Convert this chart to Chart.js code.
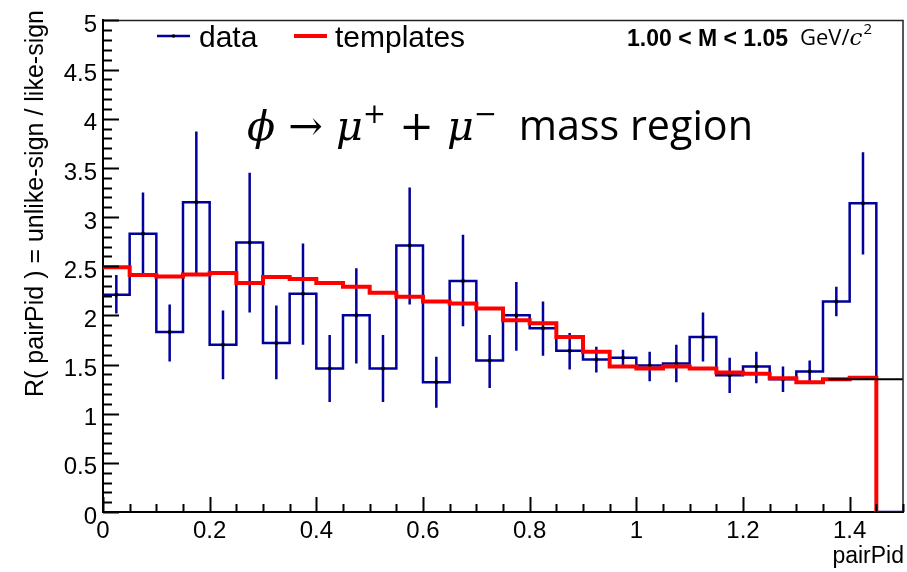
<!DOCTYPE html>
<html>
<head>
<meta charset="utf-8">
<script src="https://cdn.jsdelivr.net/npm/chart.js@4.4.1/dist/chart.umd.min.js"></script>
<style>
  html, body { margin: 0; padding: 0; background: #fff; }
  canvas { display: block; }
</style>
</head>
<body>
<canvas id="chart" width="907" height="572"></canvas>
<script>
// bin edges of the pairPid histogram (30 bins)
const binEdges = [0, 0.05, 0.1, 0.15, 0.2, 0.25, 0.3, 0.35, 0.4, 0.45, 0.5, 0.55, 0.6, 0.65, 0.7, 0.75,
                  0.8, 0.85, 0.9, 0.95, 1.0, 1.05, 1.1, 1.15, 1.2, 1.25, 1.3, 1.35, 1.4, 1.45, 1.5];

// data: ratio per bin and error bar ends
const dataValues = [2.21, 2.83, 1.83, 3.15, 1.70, 2.74, 1.72, 2.22, 1.46, 2.00, 1.46, 2.71, 1.32, 2.35, 1.54,
                    2.00, 1.87, 1.64, 1.55, 1.57, 1.49, 1.51, 1.78, 1.39, 1.48, 1.35, 1.43, 2.14, 3.14, 0];
const dataErrHigh = [2.41, 3.25, 2.11, 3.87, 2.05, 3.45, 2.10, 2.73, 1.80, 2.48, 1.80, 3.30, 1.58, 2.82, 1.80,
                     2.34, 2.14, 1.82, 1.68, 1.65, 1.63, 1.70, 2.03, 1.57, 1.63, 1.48, 1.54, 2.29, 3.66, null];
const dataErrLow = [2.02, 2.43, 1.53, 2.43, 1.35, 2.03, 1.35, 1.70, 1.12, 1.51, 1.12, 2.11, 1.06, 1.89, 1.26,
                    1.64, 1.59, 1.45, 1.42, 1.49, 1.33, 1.32, 1.53, 1.21, 1.31, 1.22, 1.33, 1.99, 2.62, null];

// templates
const templateValues = [2.49, 2.41, 2.395, 2.415, 2.43, 2.33, 2.39, 2.37, 2.33, 2.29, 2.23, 2.19, 2.14, 2.12, 2.07,
                        1.95, 1.92, 1.78, 1.63, 1.48, 1.46, 1.48, 1.46, 1.42, 1.405, 1.36, 1.32, 1.35, 1.365, 0];

// flat line at the right end
const fitX = [1.36, 1.5];
const fitY = [1.35, 1.35];

const BLUE = '#00009a';
const RED = '#ff0000';
const SANS = '"Liberation Sans", Arial, Helvetica, sans-serif';

// step outlines: point at each left edge, horizontal first then vertical
const dataStep = binEdges.map((x, i) => ({ x: x, y: dataValues[Math.min(i, dataValues.length - 1)] }));
const templateStep = binEdges.slice(0, templateValues.length).map((x, i) => ({ x: x, y: templateValues[i] }));

const centers = dataValues.map((v, i) => (binEdges[i] + binEdges[i + 1]) / 2);
const errPts = [];
const dotPts = [];
dataValues.forEach((v, i) => {
  if (dataErrLow[i] == null) return;
  errPts.push({ x: centers[i], y: dataErrLow[i] }, { x: centers[i], y: dataErrHigh[i] }, { x: centers[i], y: null });
  dotPts.push({ x: centers[i], y: v });
});
const fitPts = fitX.map((x, i) => ({ x: x, y: fitY[i] }));

// inner ticks, frame, legend and texts in ROOT style
const rootDecor = {
  id: 'rootDecor',
  afterDraw(chart) {
    const ctx = chart.ctx;
    const a = chart.chartArea;
    const xs = chart.scales.x, ys = chart.scales.y;
    ctx.save();

    // top and right frame
    ctx.strokeStyle = '#222';
    ctx.lineWidth = 1.5;
    ctx.beginPath();
    ctx.moveTo(a.left, a.top); ctx.lineTo(a.right, a.top); ctx.lineTo(a.right, a.bottom);
    ctx.stroke();

    // ticks inside the frame
    ctx.strokeStyle = '#000';
    ctx.lineWidth = 2;
    ctx.beginPath();
    for (let k = 0; k <= 50; k++) {
      const py = Math.round(ys.getPixelForValue(k / 10)) + 0.5;
      const len = (k % 5 === 0) ? 16 : 9;
      ctx.moveTo(a.left, py); ctx.lineTo(a.left + len, py);
    }
    for (let k = 0; k <= 30; k++) {
      const px = Math.round(xs.getPixelForValue(k * 0.05)) + 0.5;
      const len = (k % 4 === 0) ? 15 : 8;
      ctx.moveTo(px, a.bottom); ctx.lineTo(px, a.bottom - len);
    }
    ctx.stroke();

    // legend
    ctx.lineWidth = 2.5;
    ctx.strokeStyle = BLUE;
    ctx.beginPath(); ctx.moveTo(157, 36); ctx.lineTo(190, 36); ctx.stroke();
    ctx.fillStyle = '#000';
    ctx.beginPath(); ctx.arc(173.5, 36, 1.8, 0, Math.PI * 2); ctx.fill();
    ctx.lineWidth = 4;
    ctx.strokeStyle = RED;
    ctx.beginPath(); ctx.moveTo(294, 36); ctx.lineTo(327, 36); ctx.stroke();
    ctx.font = '30px ' + SANS;
    ctx.textBaseline = 'alphabetic';
    ctx.textAlign = 'left';
    ctx.fillText('data', 199, 47);
    ctx.fillText('templates', 335, 47);

    // mass window label
    ctx.font = 'bold 23px ' + SANS;
    ctx.fillText('1.00 < M < 1.05', 627, 46);
    let x = 800;
    ctx.font = '22px "Open Sans", sans-serif';
    ctx.fillText('GeV/', x, 45);
    x += ctx.measureText('GeV/').width;
    ctx.font = 'italic 23px "DejaVu Serif", serif';
    ctx.fillText('c', x, 45);
    x += ctx.measureText('c').width + 1;
    ctx.font = '15px "Open Sans", sans-serif';
    ctx.fillText('2', x, 34);

    // big annotation: phi -> mu+ + mu- mass region
    const parts = [
      { t: '\u03D5', f: 'italic 40px "DejaVu Serif", serif', dy: 0 },
      { t: ' \u2192 ', f: '40px "DejaVu Serif", serif', dy: 0 },
      { t: '\u03BC', f: 'italic 40px "DejaVu Serif", serif', dy: 0 },
      { t: '+', f: '27px "DejaVu Serif", serif', dy: -16 },
      { t: ' + ', f: '40px "DejaVu Serif", serif', dy: 0 },
      { t: '\u03BC', f: 'italic 40px "DejaVu Serif", serif', dy: 0 },
      { t: '\u2212', f: '27px "DejaVu Serif", serif', dy: -16 },
      { t: '  mass region', f: '40px "Open Sans", sans-serif', dy: 0 }
    ];
    let total = 0;
    parts.forEach(p => { ctx.font = p.f; p.w = ctx.measureText(p.t).width; total += p.w; });
    const s = 506 / total;
    ctx.save();
    ctx.translate(247, 140);
    ctx.scale(s, s);
    let cx = 0;
    parts.forEach(p => { ctx.font = p.f; ctx.fillText(p.t, cx, p.dy); cx += p.w; });
    ctx.restore();

    // axis titles
    ctx.font = '23px ' + SANS;
    ctx.textAlign = 'right';
    ctx.fillText('pairPid', 904, 563);
    ctx.save();
    ctx.translate(43, 10);
    ctx.rotate(-Math.PI / 2);
    ctx.font = '25px ' + SANS;
    ctx.textAlign = 'right';
    ctx.fillText('R( pairPid ) = unlike-sign / like-sign', 0, 0);
    ctx.restore();

    ctx.restore();
  }
};

new Chart(document.getElementById('chart'), {
  type: 'line',
  data: {
    datasets: [
      { data: fitPts, borderColor: '#000', borderWidth: 2, pointRadius: 0, order: 0 },
      { data: templateStep, borderColor: RED, borderWidth: 4, pointRadius: 0, stepped: true, order: 1 },
      { data: dotPts, showLine: false, pointRadius: 2, pointBackgroundColor: '#000', pointBorderWidth: 0, order: 2 },
      { data: errPts, borderColor: BLUE, borderWidth: 2.5, pointRadius: 0, spanGaps: false, order: 3 },
      { data: dataStep, borderColor: BLUE, borderWidth: 2.5, pointRadius: 0, stepped: true, order: 4 }
    ]
  },
  options: {
    responsive: false,
    animation: false,
    layout: { padding: { top: 16, right: 4, left: 0, bottom: 0 } },
    plugins: { legend: { display: false }, tooltip: { enabled: false } },
    scales: {
      x: {
        type: 'linear', min: 0, max: 1.5,
        grid: { display: false, drawTicks: false },
        border: { display: true, color: '#000', width: 2 },
        ticks: {
          stepSize: 0.2, includeBounds: false, padding: 5, color: '#000',
          font: { family: SANS, size: 24 },
          callback: v => String(+v.toFixed(1))
        },
        afterFit: s => { s.height = 60; }
      },
      y: {
        type: 'linear', min: 0, max: 5,
        grid: { display: false, drawTicks: false },
        border: { display: true, color: '#000', width: 2 },
        ticks: {
          stepSize: 0.5, padding: 6, color: '#000', labelOffset: 5,
          font: { family: SANS, size: 24 },
          callback: v => String(+v.toFixed(1))
        },
        afterFit: s => { s.width = 103; }
      }
    }
  },
  plugins: [rootDecor]
});
</script>
</body>
</html>
